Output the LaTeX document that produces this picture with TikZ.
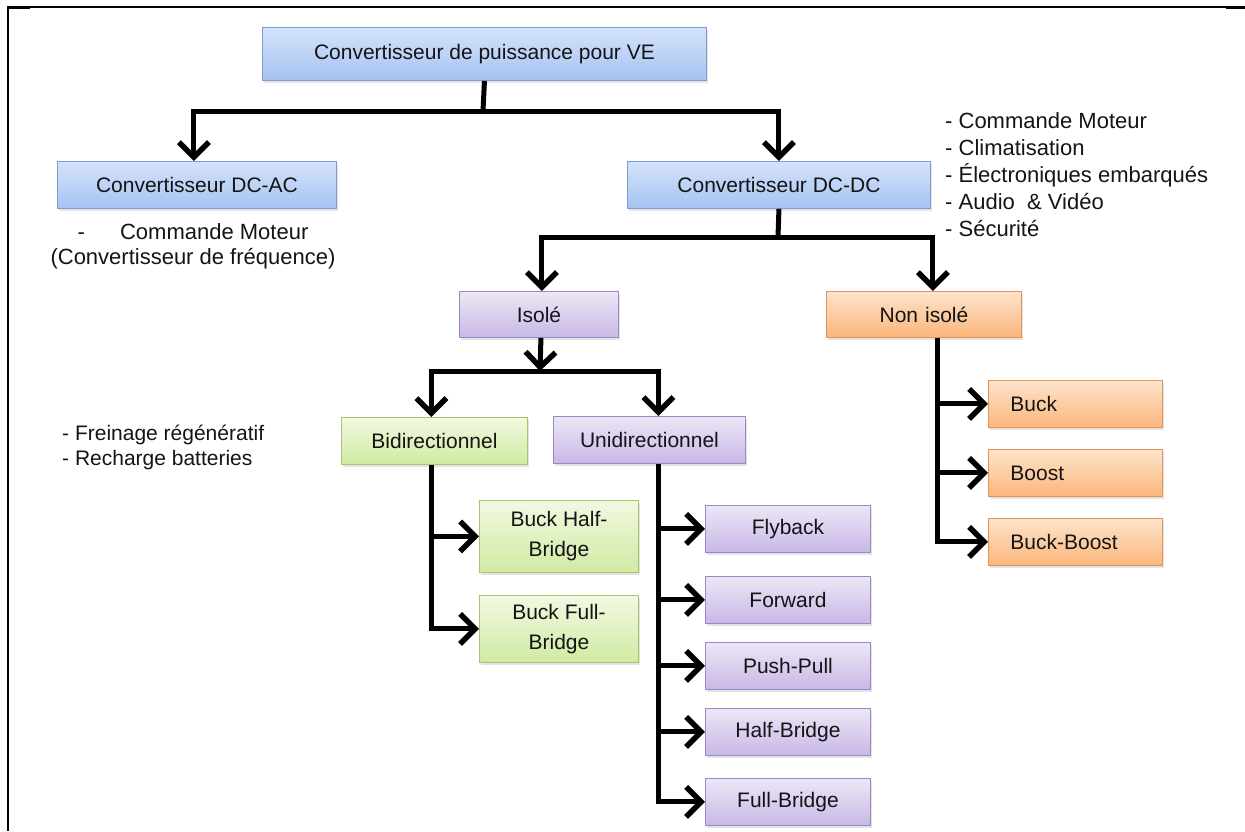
\documentclass[tikz,border=0pt]{standalone}
\usepackage{fontspec}
\setmainfont{Liberation Sans}
\usetikzlibrary{arrows.meta,shadows}
\definecolor{txt}{HTML}{141414}
\definecolor{blueT}{HTML}{D4E3FB}
\definecolor{blueB}{HTML}{A6C2F1}
\definecolor{blueD}{HTML}{7F9BCF}
\definecolor{purT}{HTML}{EDE7F6}
\definecolor{purB}{HTML}{C8B8E6}
\definecolor{purD}{HTML}{9A89C6}
\definecolor{grnT}{HTML}{F2F9E2}
\definecolor{grnB}{HTML}{D0EAA2}
\definecolor{grnD}{HTML}{A6C56E}
\definecolor{orgT}{HTML}{FDE4CC}
\definecolor{orgB}{HTML}{FBB67B}
\definecolor{orgD}{HTML}{E29455}
\tikzset{
  basebox/.style={rectangle, draw, line width=0.9pt, anchor=north west, align=center,
    text=txt, font=\fontsize{21}{30}\selectfont, inner sep=0pt,
    drop shadow={opacity=0.22, shadow xshift=1.5pt, shadow yshift=-3pt}},
  bluebox/.style={basebox, draw=blueD, top color=blueT, bottom color=blueB},
  purbox/.style={basebox, draw=purD, top color=purT, bottom color=purB},
  grnbox/.style={basebox, draw=grnD, top color=grnT, bottom color=grnB},
  orgbox/.style={basebox, draw=orgD, top color=orgT, bottom color=orgB, align=left,
    text width=130pt, inner xsep=22pt},
  ln/.style={line width=5pt, black, line join=miter},
  arr/.style={ln, -{Straight Barb[length=15pt,width=30pt,line width=5.5pt]}},
  note/.style={text=txt, font=\fontsize{21}{25}\selectfont, align=left, inner sep=0pt}
}
\begin{document}
\begin{tikzpicture}[x=1pt,y=-1pt]
\useasboundingbox (0,0) rectangle (1245,831);
% frame
\draw[line width=1.3pt] (7,7) -- (1245,7);
\draw[line width=3pt] (7,7) -- (30,7);
\draw[line width=3pt] (1226,7) -- (1245,7);
\draw[line width=2.6pt] (8,6) -- (8,831);

% boxes
\node[bluebox, minimum width=444pt, minimum height=53pt] (top) at (262,27) {Convertisseur de puissance pour VE};
\node[bluebox, minimum width=279pt, minimum height=47pt] (dcac) at (57,161) {Convertisseur DC-AC};
\node[bluebox, minimum width=303pt, minimum height=47pt] (dcdc) at (627,161) {Convertisseur DC-DC};
\node[purbox, minimum width=159pt, minimum height=46pt] (iso) at (459,291) {Isolé};
\node[orgbox, align=center, text width=195pt, inner xsep=0pt, minimum height=46pt] (niso) at (826,291) {Non isolé};
\node[grnbox, minimum width=186pt, minimum height=47pt] (bidi) at (341,417) {Bidirectionnel};
\node[purbox, minimum width=192pt, minimum height=47pt] (uni) at (553,416) {Unidirectionnel};
\node[grnbox, minimum width=159pt, minimum height=72pt] (bhb) at (479,500) {Buck Half-\\Bridge};
\node[grnbox, minimum width=159pt, minimum height=67pt] (bfb) at (479,595) {Buck Full-\\Bridge};
\node[purbox, minimum width=165pt, minimum height=47pt] (fly) at (705,505) {Flyback};
\node[purbox, minimum width=165pt, minimum height=47pt] (fwd) at (705,576) {Forward};
\node[purbox, minimum width=165pt, minimum height=47pt] (pp) at (705,642) {Push-Pull};
\node[purbox, minimum width=165pt, minimum height=47pt] (hb) at (705,708) {Half-Bridge};
\node[purbox, minimum width=165pt, minimum height=47pt] (fb) at (705,778) {Full-Bridge};
\node[orgbox, minimum height=47pt] (buck) at (988,380) {Buck};
\node[orgbox, minimum height=47pt] (boost) at (988,449) {Boost};
\node[orgbox, minimum height=47pt] (bb) at (988,518) {Buck-Boost};

% notes
\node[note, align=center, anchor=north, font=\fontsize{22}{25}\selectfont] (n1) at (193,223) {-\hspace{1.6em}Commande Moteur\\(Convertisseur de fréquence)};
\node[note, anchor=north west, font=\fontsize{22}{27}\selectfont] (n2) at (945,112) {- Commande Moteur\\- Climatisation\\- Électroniques  embarqués\\- Audio \ \& Vidéo\\- Sécurité};
\node[note, anchor=north west] (n3) at (62,425) {- Freinage  régénératif\\- Recharge batteries};

% connectors
\coordinate (j1) at (483,111);
\draw[ln] (top.south) -- (j1);
\draw[arr] (j1) -| ([xshift=-3pt]dcac.north);
\draw[arr] (j1) -| (dcdc.north);

\coordinate (j2) at (778,237);
\draw[ln] (dcdc.south) -- (j2);
\draw[arr] (j2) -| ([xshift=3pt]iso.north);
\draw[arr] (j2) -| ([xshift=9pt]niso.north);

\coordinate (j3) at (540,371);
\draw[arr] ([xshift=2pt]iso.south) -- (j3);
\draw[ln] (j3) -- ++(-5,0);
\draw[arr] (j3) -| ([xshift=-3pt]bidi.north);
\draw[arr] (j3) -| ([xshift=9pt]uni.north);

\draw[arr] ([xshift=-3pt]bidi.south) |- (bhb.west);
\draw[arr] ([xshift=-3pt]bidi.south) |- (bfb.west);

\draw[arr] ([xshift=9pt]uni.south) |- (fly.west);
\draw[arr] ([xshift=9pt]uni.south) |- (fwd.west);
\draw[arr] ([xshift=9pt]uni.south) |- (pp.west);
\draw[arr] ([xshift=9pt]uni.south) |- (hb.west);
\draw[arr] ([xshift=9pt]uni.south) |- (fb.west);

\draw[arr] ([xshift=14pt]niso.south) |- (buck.west);
\draw[arr] ([xshift=14pt]niso.south) |- (boost.west);
\draw[arr] ([xshift=14pt]niso.south) |- (bb.west);
\end{tikzpicture}
\end{document}
